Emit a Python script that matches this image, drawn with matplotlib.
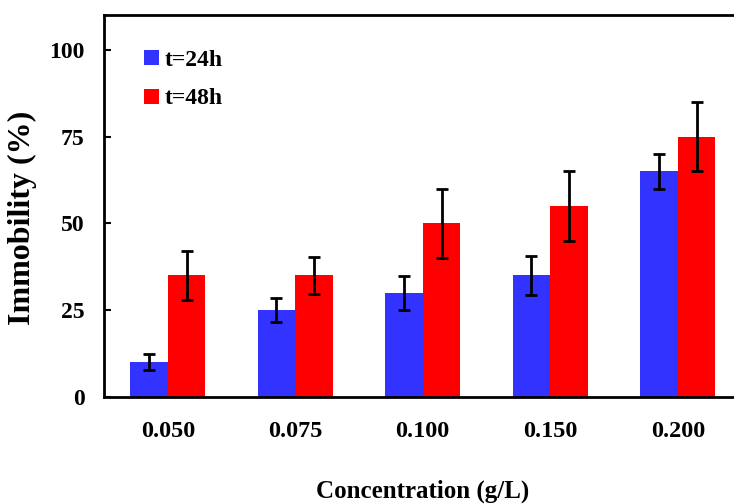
import matplotlib
matplotlib.use("Agg")
import matplotlib.pyplot as plt
import numpy as np

# data
concentrations = ["0.050", "0.075", "0.100", "0.150", "0.200"]
imm_24h = [10, 25, 30, 35, 65]
err_24h = [2.3, 3.4, 4.9, 5.5, 5.0]
imm_48h = [35, 35, 50, 55, 75]
err_48h = [7.0, 5.4, 10, 10, 10]
yticks = [0, 25, 50, 75, 100]

plt.rcParams['font.family'] = ['Liberation Serif', 'DejaVu Serif']
plt.rcParams['font.weight'] = 'bold'

fig = plt.figure(figsize=(7.34, 5.04), dpi=100)
ax = fig.add_axes([104 / 734, 107 / 504, 637.5 / 734, 382 / 504])

x = np.arange(len(concentrations))
w = 0.295
err_kw = dict(ecolor='black', elinewidth=2, capsize=4.5, capthick=2)
ax.bar(x - w / 2, imm_24h, w, yerr=err_24h, color='#3333ff', label='t=24h', error_kw=err_kw)
ax.bar(x + w / 2, imm_48h, w, yerr=err_48h, color='#ff0000', label='t=48h', error_kw=err_kw)

ax.set_xlim(-0.5, 4.5)
ax.set_ylim(0, 110)
ax.set_yticks(yticks)
ax.set_xticks(x)
ax.set_xticklabels(concentrations)

ax.tick_params(axis='y', direction='in', length=5, width=1.5, pad=14, labelsize=17)
ax.tick_params(axis='x', length=0, pad=17, labelsize=17.5)

ax.set_xlabel('Concentration (g/L)', fontsize=18, fontweight='bold', labelpad=27)
ax.set_ylabel('Immobility (%)', fontsize=23, fontweight='bold')
ax.yaxis.set_label_coords(-0.105, 0.468)

for s in ['left', 'bottom', 'top']:
    ax.spines[s].set_linewidth(2)
ax.spines['right'].set_visible(False)

ax.legend(loc='upper left', bbox_to_anchor=(0.03, 0.965), frameon=False, fontsize=17,
          handlelength=0.6, handleheight=0.6, handletextpad=0.25, labelspacing=0.75)

fig.savefig('out.png', dpi=100)
